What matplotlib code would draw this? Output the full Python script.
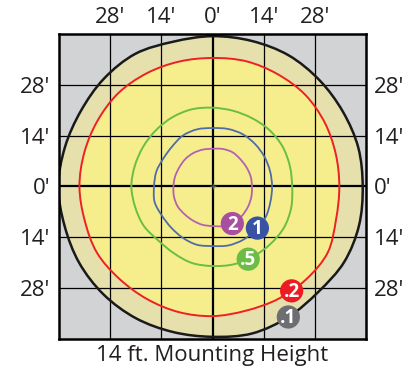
import numpy as np
import matplotlib.pyplot as plt
from matplotlib.path import Path
from matplotlib.patches import PathPatch

plt.rcParams['font.family'] = ['Open Sans', 'DejaVu Sans']

# isofootcandle contours: radius in ft, sampled every 15 deg counter-clockwise from +x
angles = np.arange(0, 360, 15)
r_01 = [41.1, 41.3, 41.2, 41.4, 41.7, 41.5, 41.4, 41.3, 42.2, 42.0, 41.6, 41.8,
        42.2, 41.9, 42.1, 42.1, 41.9, 41.5, 41.4, 41.9, 41.5, 41.0, 41.6, 41.5]
r_02 = [34.7, 34.9, 35.4, 35.8, 35.7, 35.7, 35.4, 35.6, 36.0, 36.4, 36.3, 36.3,
        36.4, 36.2, 36.5, 36.0, 35.8, 35.8, 35.7, 35.4, 35.8, 36.2, 36.4, 35.0]
r_05 = [21.8, 21.9, 22.1, 22.0, 21.7, 21.6, 21.7, 22.0, 22.0, 21.9, 21.9, 22.0,
        22.2, 21.9, 21.7, 21.0, 21.2, 21.8, 21.9, 22.2, 22.3, 22.4, 22.6, 22.3]
r_1 = [16.3, 16.3, 16.4, 16.5, 16.6, 16.4, 16.1, 16.3, 16.2, 15.6, 15.5, 15.9,
       16.0, 16.4, 16.0, 16.0, 16.3, 16.6, 16.4, 16.8, 16.9, 16.8, 16.8, 16.4]
r_2 = [10.8, 10.8, 10.7, 10.7, 10.9, 10.7, 10.4, 10.5, 10.6, 10.6, 10.5, 10.6,
       10.7, 10.9, 11.0, 10.8, 10.8, 10.9, 10.9, 11.3, 11.6, 11.4, 11.2, 11.0]

levels = ['.1', '.2', '.5', '1', '2']
radii = [r_01, r_02, r_05, r_1, r_2]
line_colors = ['#1a1a1a', '#ed2024', '#6abd45', '#4f6ca9', '#b262ae']
badge_colors = ['#6d6e71', '#ed1c24', '#6cbd45', '#3853a4', '#a8509f']
badge_angles = [300, 307, 296, 317, 298]

ticks = [-28, -14, 0, 14, 28]
tick_labels = ["28'", "14'", "0'", "14'", "28'"]
grid_pos = [-28, -14, 14, 28]
extent = 42


def contour_path(r):
    # closed Catmull-Rom curve through the sampled points, as cubic beziers
    a = np.deg2rad(angles)
    p = np.column_stack([np.array(r) * np.cos(a), np.array(r) * np.sin(a)])
    n = len(p)
    verts = [p[0]]
    codes = [Path.MOVETO]
    for i in range(n):
        p0, p1, p2, p3 = p[i - 1], p[i], p[(i + 1) % n], p[(i + 2) % n]
        verts += [p1 + (p2 - p0) / 6, p2 - (p3 - p1) / 6, p2]
        codes += [Path.CURVE4] * 3
    verts.append(p[0])
    codes.append(Path.CLOSEPOLY)
    return Path(verts, codes)


fig = plt.figure(figsize=(4.04, 3.74), dpi=100)
ax = fig.add_axes([59 / 404, 35 / 374, 307 / 404, 305 / 374])
ax.set_facecolor('#d1d3d4')
ax.set_xlim(-extent, extent)
ax.set_ylim(-extent, extent)

# filled zones: outer ring (.1 to .2) and the lit core inside .2
ax.add_patch(PathPatch(contour_path(r_01), fc='#e6e0ad', lw=0, zorder=1))
ax.add_patch(PathPatch(contour_path(r_02), fc='#f6ee8c', lw=0, zorder=1))

for g in grid_pos:
    ax.axvline(g, color='black', lw=0.9, zorder=2)
    ax.axhline(g, color='black', lw=0.9, zorder=2)
ax.axvline(0, color='black', lw=1.6, zorder=2)
ax.axhline(0, color='black', lw=1.6, zorder=2)
ax.plot([0], [0], marker='+', ms=4, color='#555555', mew=1, zorder=2)

for r, c, lw in zip(radii, line_colors, [1.8, 1.4, 1.4, 1.3, 1.3]):
    ax.add_patch(PathPatch(contour_path(r), fc='none', ec=c, lw=lw, zorder=3))

# value badges sitting on each contour
for lab, r, c, ang in zip(levels, radii, badge_colors, badge_angles):
    rr = np.interp(ang, np.append(angles, 360), np.append(r, r[0]))
    bx = rr * np.cos(np.deg2rad(ang))
    by = rr * np.sin(np.deg2rad(ang))
    ax.scatter([bx], [by], s=280, color=c, edgecolors='none', zorder=4)
    ax.text(bx, by - 0.3, lab, color='white', fontsize=13.5, fontweight='bold',
            ha='center', va='center', zorder=5)

ax.set_xticks(ticks)
ax.set_xticklabels(tick_labels)
ax.set_yticks(ticks)
ax.set_yticklabels(tick_labels)
ax.tick_params(axis='x', top=True, bottom=False, labeltop=True, labelbottom=False,
               length=0, pad=4, labelsize=16, labelcolor='#231f20')
ax.tick_params(axis='y', left=True, right=True, labelleft=True, labelright=True,
               length=0, pad=6, labelsize=16, labelcolor='#231f20')
for s in ax.spines.values():
    s.set_linewidth(1.8)
    s.set_zorder(6)

fig.text(212.5 / 404, 1 - 356 / 374, '14 ft. Mounting Height', ha='center', va='center',
         fontsize=16, color='#231f20')

fig.savefig('out.png', dpi=100)
